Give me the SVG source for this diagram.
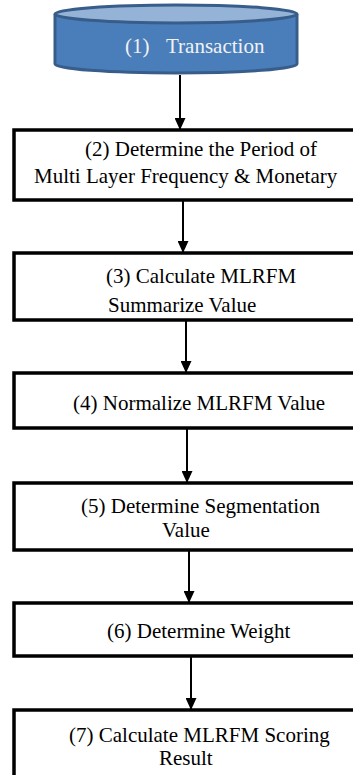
<svg xmlns="http://www.w3.org/2000/svg" width="353" height="775" viewBox="0 0 353 775">
<style>
.box{fill:#fff;stroke:#000;stroke-width:3.5}
.t{font-family:"Liberation Serif","Times New Roman",serif;font-size:21px;fill:#000}
.w{fill:#F2F2F2}
.c{stroke:#000;stroke-width:2;fill:none}
</style>
<defs>
<marker id="ah" markerUnits="userSpaceOnUse" markerWidth="12" markerHeight="11" refX="12" refY="5.5" orient="auto">
<path d="M0,0 L12,5.5 L0,11 Z" fill="#000"/>
</marker>
</defs>
<rect width="353" height="775" fill="#fff"/>
<g id="connectors">
<line class="c" x1="180" y1="75" x2="180" y2="130" marker-end="url(#ah)"/>
<line class="c" x1="183" y1="201" x2="183" y2="253" marker-end="url(#ah)"/>
<line class="c" x1="186" y1="321" x2="186" y2="373" marker-end="url(#ah)"/>
<line class="c" x1="187" y1="429" x2="187" y2="483" marker-end="url(#ah)"/>
<line class="c" x1="189" y1="551" x2="189" y2="603" marker-end="url(#ah)"/>
<line class="c" x1="191" y1="657" x2="191" y2="710" marker-end="url(#ah)"/>
</g>
<g id="n1">
<path d="M55,14 L55,64 A121,9 0 0 0 297,64 L297,14" fill="#4A7EBB" stroke="#385D8A" stroke-width="3"/>
<ellipse cx="176" cy="14" rx="121" ry="9" fill="#95B3D7" stroke="#385D8A" stroke-width="3"/>
<text class="t w" y="53"><tspan x="125">(1)</tspan><tspan x="166">Transaction</tspan></text>
</g>
<g id="n2">
<rect class="box" x="14" y="130" width="350" height="70"/>
<text class="t" x="85" y="156">(2) Determine the Period of</text>
<text class="t" x="34" y="183">Multi Layer Frequency &amp; Monetary</text>
</g>
<g id="n3">
<rect class="box" x="14" y="253" width="350" height="67"/>
<text class="t" x="106" y="283">(3) Calculate MLRFM</text>
<text class="t" x="108" y="312">Summarize Value</text>
</g>
<g id="n4">
<rect class="box" x="14" y="373" width="350" height="55"/>
<text class="t" x="73" y="410">(4) Normalize MLRFM Value</text>
</g>
<g id="n5">
<rect class="box" x="14" y="483" width="350" height="67"/>
<text class="t" x="81" y="513">(5) Determine Segmentation</text>
<text class="t" x="162" y="537">Value</text>
</g>
<g id="n6">
<rect class="box" x="14" y="603" width="350" height="53"/>
<text class="t" x="107" y="638">(6) Determine Weight</text>
</g>
<g id="n7">
<rect class="box" x="14" y="710" width="350" height="80"/>
<text class="t" x="69" y="742">(7) Calculate MLRFM Scoring</text>
<text class="t" x="159" y="765">Result</text>
</g>
</svg>
